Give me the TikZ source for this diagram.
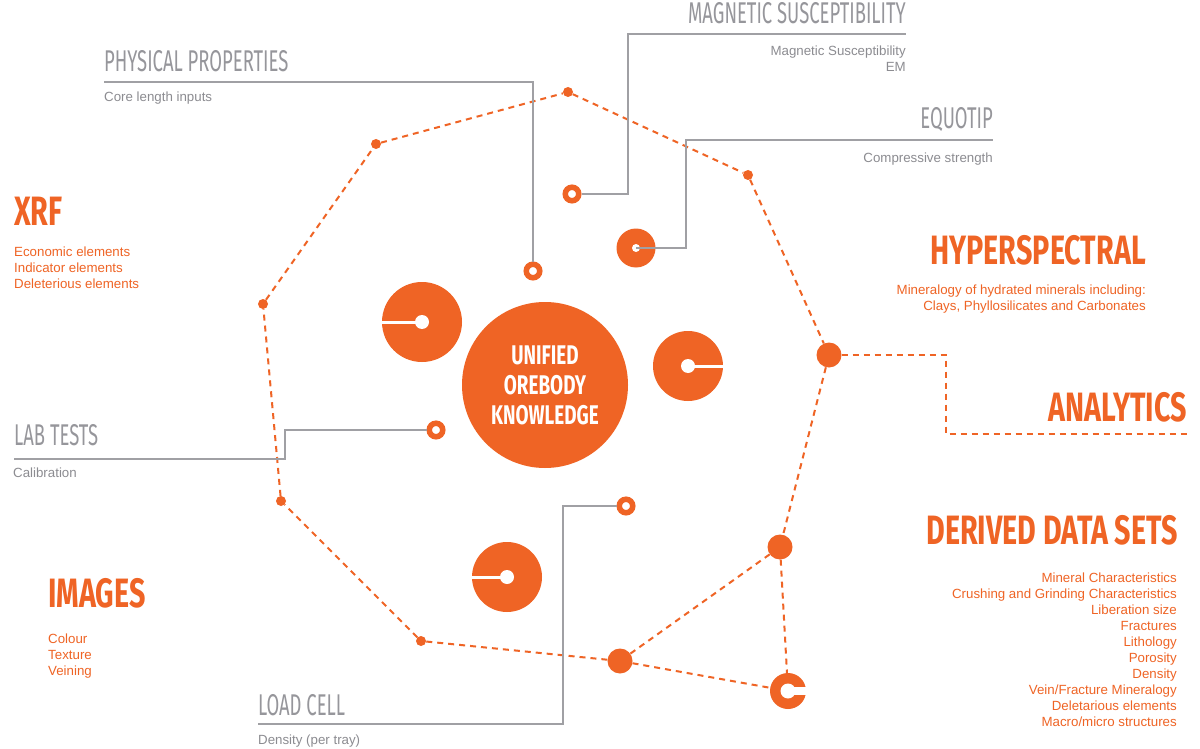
\documentclass[tikz,border=0pt]{standalone}
\usepackage{fontspec}
\setmainfont{Liberation Sans}
\newfontfamily\thinhead[FakeStretch=0.615]{Fira Sans}
\newfontfamily\boldhead[FakeStretch=0.70]{Fira Sans}
\usetikzlibrary{positioning}
\definecolor{ore}{RGB}{239,100,37}
\definecolor{wirecol}{RGB}{160,160,164}
\definecolor{headgrey}{RGB}{150,150,155}
\definecolor{subgrey}{RGB}{140,140,145}

\begin{document}
\begin{tikzpicture}[x=1pt,y=-1pt,
    oredash/.style={ore, line width=2pt, dash pattern=on 6pt off 5pt},
    wire/.style={wirecol, line width=2pt},
    dot/.style={circle, fill=ore, inner sep=0pt, minimum size=10pt},
    bigdot/.style={circle, fill=ore, inner sep=0pt, minimum size=25pt},
    ring/.style={circle, draw=ore, fill=white, line width=5.5pt, inner sep=0pt, minimum size=13.5pt},
    disc/.style={circle, fill=ore, inner sep=0pt},
    greyhead/.style={font=\thinhead\fontsize{30}{30}\selectfont, text=headgrey, inner sep=0pt},
    orehead/.style={font=\boldhead\bfseries\fontsize{41}{41}\selectfont, text=ore, inner sep=0pt},
    greysub/.style={font=\fontsize{13.3}{16}\selectfont, text=subgrey, inner sep=0pt},
    oresub/.style={font=\fontsize{13.3}{16}\selectfont, text=ore, inner sep=0pt}]
    \useasboundingbox[fill=white] (0,0) rectangle (1200,749);

    % dashed ring of points
    \node[dot] (v1) at (568,92) {};
    \node[dot] (v2) at (748,175) {};
    \node[bigdot] (v3) at (829,355) {};
    \node[bigdot] (v4) at (780,547) {};
    \node[bigdot] (v5) at (620,661) {};
    \node[dot] (v6) at (421,641) {};
    \node[dot] (v7) at (281,501) {};
    \node[dot] (v8) at (263,304) {};
    \node[dot] (v9) at (376,144) {};
    \node[disc, minimum size=36pt] (c1) at (788,691) {};
    \fill[white] (c1.center) circle (7.5pt);
    \draw[white, line width=8pt] (c1.center) -- ([xshift=1pt]c1.east);

    \draw[oredash] (v1) -- (v2) -- (v3) -- (v4) -- (v5) -- (v6) -- (v7) -- (v8) -- (v9) -- (v1);
    \draw[oredash] (v4) -- (c1);
    \draw[oredash] (v5) -- (c1);

    \coordinate (an1) at (946,355);
    \coordinate (an2) at (946,434);
    \coordinate (an3) at (1188,434);
    \draw[oredash] (v3) -- (an1) -- (an2) -- (an3);

    % centre
    \node[circle, fill=ore, inner sep=0pt, minimum size=166pt, align=center, text=white,
        font=\boldhead\bfseries\fontsize{27}{30}\selectfont] (core) at (545,385) {UNIFIED\\OREBODY\\KNOWLEDGE};

    % discs
    \node[disc, minimum size=80pt] (d1) at (422,322) {};
    \fill[white] (d1.center) circle (7pt);
    \draw[white, line width=3pt] (d1.center) -- ([xshift=-1pt]d1.west);
    \node[disc, minimum size=70pt] (d2) at (688,366) {};
    \fill[white] (d2.center) circle (7pt);
    \draw[white, line width=3pt] (d2.center) -- ([xshift=1pt]d2.east);
    \node[disc, minimum size=70pt] (d3) at (507,577) {};
    \fill[white] (d3.center) circle (7pt);
    \draw[white, line width=3pt] (d3.center) -- ([xshift=-1pt]d3.west);
    \node[disc, minimum size=39pt] (d4) at (636,248) {};
    \fill[white] (d4.center) circle (4pt);

    % rings and wires
    \node[ring] (r1) at (572,194) {};
    \node[ring] (r2) at (533,271) {};
    \node[ring] (r3) at (436,430) {};
    \node[ring] (r4) at (626,506) {};
    \coordinate (ppend) at (104,82);
    \coordinate (msbend) at (628,194);
    \coordinate (msend) at (906,34);
    \coordinate (eqbend) at (686,248);
    \coordinate (eqend) at (993,140);
    \coordinate (labbend) at (285,430);
    \coordinate (labend) at (14,459);
    \coordinate (loadbend) at (563,506);
    \coordinate (loadend) at (258,724);
    \draw[wire] (r2) |- (ppend);
    \draw[wire] (r1) -- (msbend) |- (msend);
    \draw[wire] (d4.center) -- (eqbend) |- (eqend);
    \draw[wire] (r3) -- (labbend) |- (labend);
    \draw[wire] (r4) -- (loadbend) |- (loadend);

    % labels
    \node[greyhead, anchor=base west] (pp) at (104,72) {PHYSICAL PROPERTIES};
    \node[greysub, anchor=base west] (ppsub) at (104,102) {Core length inputs};
    \node[greyhead, anchor=base east] (ms) at (906,24) {MAGNETIC SUSCEPTIBILITY};
    \node[greysub, anchor=base east, align=right] (mssub) at (906,72) {Magnetic Susceptibility\\EM};
    \node[greyhead, anchor=base east] (eq) at (993,129) {EQUOTIP};
    \node[greysub, anchor=base east] (eqsub) at (993,163) {Compressive strength};
    \node[greyhead, anchor=base west] (lab) at (14,445) {LAB TESTS};
    \node[greysub, anchor=base west] (labsub) at (13,477) {Calibration};
    \node[greyhead, anchor=base west] (load) at (258,715) {LOAD CELL};
    \node[greysub, anchor=base west] (loadsub) at (258,744) {Density (per tray)};

    \node[orehead, anchor=base west] (xrf) at (14,225) {XRF};
    \node[oresub, anchor=base west, align=left] (xrfsub) at (14,288) {Economic elements\\Indicator elements\\Deleterious elements};
    \node[orehead, anchor=base east] (hyp) at (1146,264) {HYPERSPECTRAL};
    \node[oresub, anchor=base east, align=right] (hypsub) at (1146,310) {Mineralogy of hydrated minerals including:\\Clays, Phyllosilicates and Carbonates};
    \node[orehead, anchor=base east] (ana) at (1187,421) {ANALYTICS};
    \node[orehead, anchor=base east] (der) at (1178,544) {DERIVED DATA SETS};
    \node[oresub, anchor=base east, align=right] (dersub) at (1177,726) {Mineral Characteristics\\Crushing and Grinding Characteristics\\Liberation size\\Fractures\\Lithology\\Porosity\\Density\\Vein/Fracture Mineralogy\\Deletarious elements\\Macro/micro structures};
    \node[orehead, anchor=base west] (img) at (48,607) {IMAGES};
    \node[oresub, anchor=base west, align=left] (imgsub) at (48,675) {Colour\\Texture\\Veining};
\end{tikzpicture}
\end{document}
